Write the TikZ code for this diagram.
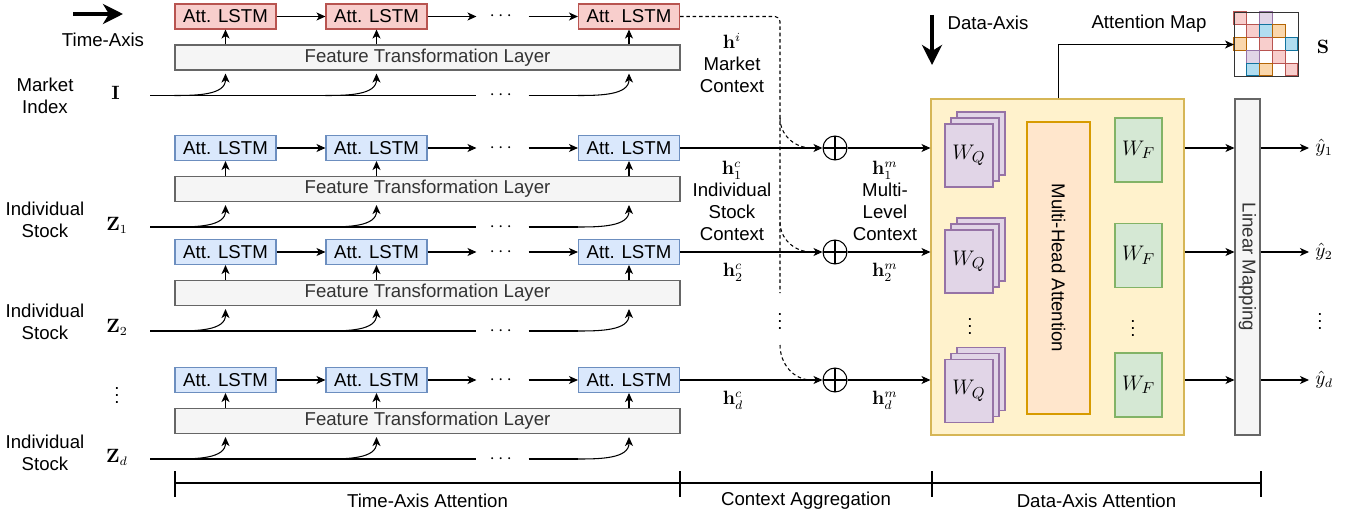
\documentclass[tikz,border=0pt]{standalone}
\usepackage{amsmath}
\usepackage[no-math]{fontspec}
\setmainfont{Liberation Sans}
\usepackage{tikz}
\usetikzlibrary{arrows.meta,calc}

\definecolor{redfill}{HTML}{F8CECC}
\definecolor{redline}{HTML}{B85450}
\definecolor{bluefill}{HTML}{DAE8FC}
\definecolor{blueline}{HTML}{6C8EBF}
\definecolor{grayfill}{HTML}{F5F5F5}
\definecolor{grayline}{HTML}{666666}
\definecolor{graytext}{HTML}{333333}
\definecolor{yellowfill}{HTML}{FFF2CC}
\definecolor{yellowline}{HTML}{D6B656}
\definecolor{mhafill}{HTML}{FFE6CC}
\definecolor{mhaline}{HTML}{D79B00}
\definecolor{purplefill}{HTML}{E1D5E7}
\definecolor{purpleline}{HTML}{9673A6}
\definecolor{greenfill}{HTML}{D5E8D4}
\definecolor{greenline}{HTML}{82B366}
\definecolor{cyanfill}{HTML}{B1DDF0}
\definecolor{cyanline}{HTML}{10739E}
\definecolor{orangefill}{HTML}{FAD7AC}
\definecolor{orangeline}{HTML}{B46504}

\begin{document}
\begin{tikzpicture}[x=0.2mm, y=-0.2mm, line width=0.6pt,
  font=\fontsize{10.6}{12.5}\selectfont,
  >={Stealth[length=1.8mm,width=1.6mm,inset=0.5mm]},
  lstm/.style={draw=#1line, fill=#1fill, minimum width=20.2mm, minimum height=5mm, inner sep=0pt},
  ftl/.style={draw=grayline, fill=grayfill, text=graytext, minimum width=101mm, minimum height=5mm, inner sep=0pt},
  dots/.style={minimum width=10.2mm, inner sep=0pt},
  oplus/.style={draw, circle, minimum size=4.8mm, inner sep=0pt,
    path picture={\draw (path picture bounding box.north) -- (path picture bounding box.south)
      (path picture bounding box.west) -- (path picture bounding box.east);}},
  wq/.style={draw=purpleline, fill=purplefill, minimum width=9.6mm, minimum height=12.6mm, inner sep=0pt,
    font=\fontsize{13}{15}\selectfont},
  wf/.style={draw=greenline, fill=greenfill, minimum width=9.4mm, minimum height=12.8mm, inner sep=0pt,
    font=\fontsize{13}{15}\selectfont},
  cell/.style={draw=#1line, fill=#1fill},
  bigarrow/.style={line width=2.2pt, -{Stealth[length=4mm,width=4mm,inset=1.2mm]}},
  ctx/.style={align=center, inner sep=0pt}]

\useasboundingbox (0,0) rectangle (1353,516);

% draw axis arrows
\coordinate (tstart) at (73,14);
\coordinate (tend) at (123,14);
\draw[bigarrow] (tstart) -- (tend);
\node (tname) at (103,40) {Time-Axis};
\coordinate (dstart) at (932,15);
\coordinate (dend) at (932,65);
\draw[bigarrow] (dstart) -- (dend);
\node (dname) at (988,23) {Data-Axis};

% draw the four rows of the time-axis attention
\foreach \y/\r/\c in {16.5/m/red, 148/a/blue, 252/b/blue, 380/d/blue} {
  \node[lstm=\c] (\r1) at (225.5,\y) {Att. LSTM};
  \node[lstm=\c] (\r2) at (376.5,\y) {Att. LSTM};
  \node[dots] (\r dots) at (502.5,\y) {$\cdots$};
  \node[lstm=\c] (\r3) at (629,\y) {Att. LSTM};
  \draw[->] (\r1) -- (\r2);
  \draw[->] (\r2) -- (\r dots);
  \draw[->] (\r dots) -- (\r3);
  \node[ftl] (\r ftl) at (427.5,\y+41) {Feature Transformation Layer};
  \coordinate (\r in) at (150,\y+79);
  \node[dots] (\r indots) at (502.5,\y+79) {$\cdots$};
  \draw (\r in) -- (\r indots);
  \draw (\r indots) -- (\r3.west |- \r in);
  \foreach \k in {1,2,3} {
    \draw[->] (\r ftl.north -| \r\k) -- (\r\k);
    \draw[->] (\r\k.west |- \r in) to[out=0,in=-90] ($(\r ftl.south -| \r\k)+(0,3)$);
  }
}

% row labels
\node[align=center] (mlabel) at (45,95.5) {Market\\Index};
\node (mvar) at (115.5,93) {$\mathbf{I}$};
\node[align=center] (alabel) at (45,219.5) {Individual\\Stock};
\node (avar) at (117,225) {$\mathbf{Z}_1$};
\node[align=center] (blabel) at (45,322) {Individual\\Stock};
\node (bvar) at (117,327) {$\mathbf{Z}_2$};
\node (rowdots) at (117,390) {$\vdots$};
\node[align=center] (dlabel) at (45,452.5) {Individual\\Stock};
\node (dvar) at (117,457) {$\mathbf{Z}_d$};

% context aggregation
\node[oplus] (p1) at (835,148) {};
\node[oplus] (p2) at (835,252) {};
\node[oplus] (pd) at (835,380) {};
\draw[->] (a3) -- (p1);
\draw[->] (b3) -- (p2);
\draw[->] (d3) -- (pd);
\coordinate (dbend) at (780,293);
\draw[dashed, dash pattern=on 2pt off 1.6pt, rounded corners=1mm] (m3) -| (dbend);
\node (cdots) at (780,316) {$\vdots$};
\draw[dashed, dash pattern=on 2pt off 1.6pt] (780,118) to[out=-90,in=180] ($(p1.west)+(-11,0)$);
\draw[dashed, dash pattern=on 2pt off 1.6pt] (780,222) to[out=-90,in=180] ($(p2.west)+(-11,0)$);
\draw[dashed, dash pattern=on 2pt off 1.6pt] (780,345) to[out=-90,in=180] ($(pd.west)+(-11,0)$);

\node[ctx] (mctx) at (732,63) {$\mathbf{h}^i$\\Market\\Context};
\node[ctx] (actx) at (732,201) {$\mathbf{h}_1^c$\\Individual\\Stock\\Context};
\node[ctx] (mlctx) at (885,201) {$\mathbf{h}_1^m$\\Multi-\\Level\\Context};
\node (h2c) at (733,272) {$\mathbf{h}_2^c$};
\node (h2m) at (885,272) {$\mathbf{h}_2^m$};
\node (hdc) at (733,400) {$\mathbf{h}_d^c$};
\node (hdm) at (885,400) {$\mathbf{h}_d^m$};

% data-axis attention
\node[draw=yellowline, fill=yellowfill, minimum width=50.6mm, minimum height=67.2mm] (att) at (1057.5,267) {};
\draw[->] (p1) -- (att.west |- p1);
\draw[->] (p2) -- (att.west |- p2);
\draw[->] (pd) -- (att.west |- pd);

\foreach \y/\q in {155.5/q1, 261.5/q2, 391/qd} {
  \node[wq] (\q back) at (981,\y-12) {};
  \node[wq] (\q mid) at (975,\y-6) {};
  \node[wq] (\q) at (969,\y) {$W_Q$};
}
\node (qdots) at (970,321) {$\vdots$};

\node[draw=mhaline, fill=mhafill, minimum width=12.6mm, minimum height=58.4mm] (mha) at (1058.5,268) {};
\node[rotate=-90] (mhatext) at (mha) {Multi-Head Attention};

\node[wf] (f1) at (1138.5,150) {$W_F$};
\node[wf] (f2) at (1138.5,255.5) {$W_F$};
\node[wf] (fd) at (1138.5,385) {$W_F$};
\node (fdots) at (1133,323) {$\vdots$};

\node[draw=grayline, fill=grayfill, minimum width=5mm, minimum height=67.2mm] (lin) at (1247.5,267) {};
\node[rotate=-90, text=graytext] (lintext) at (lin) {Linear Mapping};

\draw[->] (att.east |- p1) -- (lin.west |- p1);
\draw[->] (att.east |- p2) -- (lin.west |- p2);
\draw[->] (att.east |- pd) -- (lin.west |- pd);

\node[anchor=west] (y1) at (1309,148) {$\hat{y}_1$};
\node[anchor=west] (y2) at (1309,252) {$\hat{y}_2$};
\node (ydots) at (1320,316) {$\vdots$};
\node[anchor=west] (yd) at (1309,380) {$\hat{y}_d$};
\draw[->] (lin.east |- y1) -- (y1);
\draw[->] (lin.east |- y2) -- (y2);
\draw[->] (lin.east |- yd) -- (yd);

% attention map
\foreach \i/\j/\c in {0/0/red, 2/0/purple, 1/1/red, 2/1/cyan, 3/1/orange, 0/2/orange, 2/2/red,
    4/2/cyan, 1/3/purple, 3/3/red, 1/4/cyan, 2/4/orange, 4/4/red}
  \draw[cell=\c] (1234+\i*12.8,12+\j*12.8) rectangle ++(12.8,12.8);
\node[draw=graytext, minimum width=12.8mm, minimum height=12.8mm, inner sep=0pt, anchor=north west] (smap) at (1234,12) {};
\draw[->] (att.north -| mha) |- (smap.west);
\node (amap) at (1149,24) {Attention Map};
\node (sname) at (1323,47) {$\mathbf{S}$};

% bottom axis
\draw (175,483) -- (1261,483);
\foreach \x in {175,680,932,1261}
  \draw (\x,471) -- (\x,497);
\node (tatt) at (427.5,501) {Time-Axis Attention};
\node (cagg) at (806,501) {Context Aggregation};
\node (datt) at (1096.5,501) {Data-Axis Attention};

\end{tikzpicture}
\end{document}
